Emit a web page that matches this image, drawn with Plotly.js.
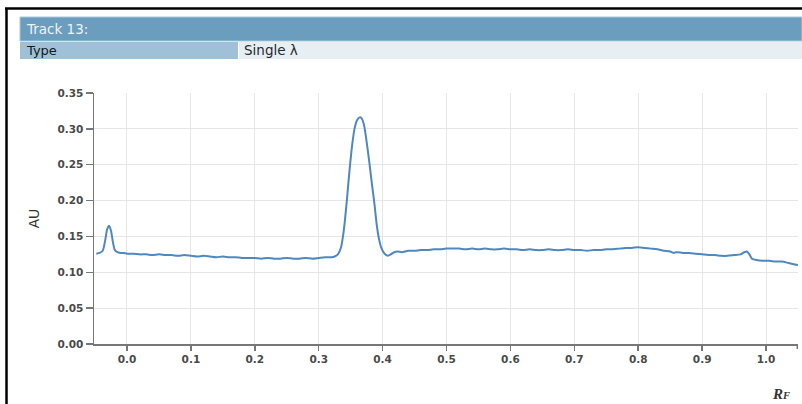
<!DOCTYPE html>
<html>
<head>
<meta charset="utf-8">
<script src="https://cdn.plot.ly/plotly-3.0.1.min.js"></script>
<style>
html,body{margin:0;padding:0;background:#fff;}
#chart{width:802px;height:404px;}
</style>
</head>
<body>
<div id="chart"></div>
<script>
// ---- data ----
const rfValues = [
-0.048,-0.043,-0.038,-0.034,-0.031,-0.028,-0.025,-0.022,-0.019,-0.015,-0.010,-0.005,
0.000,0.010,0.020,0.030,0.040,0.050,0.060,0.070,0.080,0.090,
0.100,0.110,0.120,0.130,0.140,0.150,0.160,0.170,0.180,0.190,
0.200,0.210,0.220,0.230,0.240,0.250,0.260,0.270,0.280,0.290,
0.300,0.310,0.320,0.325,0.330,0.335,0.338,0.341,0.344,0.348,0.352,0.356,0.360,0.364,0.367,
0.371,0.375,0.379,0.383,0.387,0.391,0.394,0.398,0.403,0.408,0.413,0.418,0.423,0.430,
0.440,0.450,0.460,0.470,0.480,0.490,0.500,0.510,0.520,0.530,0.540,0.550,0.560,0.570,0.580,0.590,
0.600,0.610,0.620,0.630,0.640,0.650,0.660,0.670,0.680,0.690,
0.700,0.710,0.720,0.730,0.740,0.750,0.760,0.770,0.780,0.790,
0.800,0.810,0.820,0.830,0.840,0.850,0.855,0.860,0.870,0.880,0.890,
0.900,0.910,0.920,0.930,0.940,0.950,0.960,0.966,0.970,0.974,0.978,0.985,0.995,
1.005,1.015,1.025,1.035,1.045,1.050
];
const auValues = [
0.126,0.127,0.130,0.145,0.160,0.165,0.158,0.142,0.131,0.128,0.127,0.127,
0.126,0.126,0.125,0.125,0.124,0.125,0.124,0.124,0.123,0.124,
0.123,0.122,0.123,0.122,0.121,0.122,0.121,0.121,0.120,0.120,
0.120,0.119,0.120,0.119,0.119,0.120,0.119,0.119,0.120,0.119,
0.120,0.121,0.121,0.122,0.125,0.135,0.150,0.172,0.200,0.240,0.275,0.300,0.312,0.316,0.315,
0.305,0.282,0.255,0.225,0.197,0.165,0.148,0.134,0.126,0.123,0.125,0.128,0.129,0.128,
0.130,0.130,0.131,0.131,0.132,0.132,0.133,0.133,0.133,0.132,0.133,0.132,0.133,0.132,0.132,0.133,
0.132,0.132,0.131,0.132,0.131,0.131,0.132,0.131,0.131,0.132,
0.131,0.131,0.130,0.131,0.131,0.132,0.132,0.133,0.134,0.134,
0.135,0.134,0.133,0.132,0.130,0.129,0.127,0.128,0.127,0.127,0.126,
0.125,0.124,0.124,0.123,0.123,0.124,0.125,0.128,0.129,0.125,0.119,0.117,0.116,
0.116,0.115,0.115,0.113,0.111,0.110
];
const xTickVals = [0,0.1,0.2,0.3,0.4,0.5,0.6,0.7,0.8,0.9,1.0];
const xTickText = ["0.0","0.1","0.2","0.3","0.4","0.5","0.6","0.7","0.8","0.9","1.0"];
const yTickVals = [0,0.05,0.10,0.15,0.20,0.25,0.30,0.35];
const yTickText = ["0.00","0.05","0.10","0.15","0.20","0.25","0.30","0.35"];
const headerTitle = "Track 13:";
const typeLabel = "Type";
const typeValue = "Single λ";

// ---- layout geometry ----
const W = 802, H = 404;
const M = {l:94, r:4, t:93, b:60};
const pw = W - M.l - M.r, ph = H - M.t - M.b;
const px = v => (v - M.l) / pw;          // pixel x -> paper x
const py = v => (H - M.b - v) / ph;      // pixel y -> paper y

const shapes = [
  // header bar
  {type:'rect', xref:'paper', yref:'paper', x0:px(20), x1:px(802), y0:py(41), y1:py(17),
   fillcolor:'#6b9dbe', line:{color:'#a9c7da', width:1}, layer:'below'},
  // type row left cell
  {type:'rect', xref:'paper', yref:'paper', x0:px(20), x1:px(238), y0:py(59), y1:py(42),
   fillcolor:'#9fc1d7', line:{width:0}, layer:'below'},
  // type row right cell
  {type:'rect', xref:'paper', yref:'paper', x0:px(239), x1:px(802), y0:py(59), y1:py(42),
   fillcolor:'#e8eff2', line:{width:0}, layer:'below'},
  // black frame lines
  {type:'line', xref:'paper', yref:'paper', x0:px(5), x1:px(802), y0:py(8.5), y1:py(8.5),
   line:{color:'#000', width:2.5}},
  {type:'line', xref:'paper', yref:'paper', x0:px(6.5), x1:px(6.5), y0:py(8), y1:py(404),
   line:{color:'#000', width:2.5}},
  // outer tick at right end of x axis
  {type:'line', xref:'paper', yref:'paper', x0:0.999, x1:0.999, y0:0, y1:py(349),
   line:{color:'#777', width:1.5}}
];

const annotations = [
  {xref:'paper', yref:'paper', x:px(24), y:py(29), xanchor:'left', yanchor:'middle',
   text:headerTitle, showarrow:false, font:{family:'DejaVu Sans', size:13.5, color:'#edf3f7'}},
  {xref:'paper', yref:'paper', x:px(24), y:py(50.5), xanchor:'left', yanchor:'middle',
   text:typeLabel, showarrow:false, font:{family:'DejaVu Sans', size:13, color:'#101820'}},
  {xref:'paper', yref:'paper', x:px(242), y:py(50.5), xanchor:'left', yanchor:'middle',
   text:typeValue, showarrow:false, font:{family:'DejaVu Sans', size:13.5, color:'#1e2a33'}},
  {xref:'paper', yref:'paper', x:px(781), y:py(394), xanchor:'center', yanchor:'middle',
   text:"<b><i>R</i></b><b><i><span style='font-size:10.5px'>F</span></i></b>", showarrow:false,
   font:{family:'Liberation Serif', size:15, color:'#333'}}
];

const trace = {
  x: rfValues, y: auValues, type:'scatter', mode:'lines',
  line:{color:'#4e88bf', width:2, shape:'spline', smoothing:0.6},
  hoverinfo:'skip'
};

const axisCommon = {
  showgrid:true, gridcolor:'#e6e6e6', gridwidth:1,
  showline:true, linecolor:'#777', linewidth:1.5,
  ticks:'outside', tickcolor:'#777', tickwidth:1.5,
  zeroline:false, fixedrange:true,
  tickfont:{family:'DejaVu Sans', size:10.5, color:'#4a4a4a', weight:'bold'}
};

const layout = {
  width:W, height:H, margin:M,
  paper_bgcolor:'#fff', plot_bgcolor:'#fff',
  showlegend:false,
  xaxis: Object.assign({}, axisCommon, {
    range:[-0.0516,1.050], tickmode:'array', tickvals:xTickVals, ticktext:xTickText, ticklen:5
  }),
  yaxis: Object.assign({}, axisCommon, {
    range:[0,0.35], tickmode:'array', tickvals:yTickVals, ticktext:yTickText, ticklen:7,
    title:{text:'AU', standoff:14, font:{family:'Liberation Sans', size:14, color:'#333'}}
  }),
  shapes: shapes,
  annotations: annotations
};

Plotly.newPlot('chart', [trace], layout, {displayModeBar:false, staticPlot:true});
</script>
</body>
</html>
